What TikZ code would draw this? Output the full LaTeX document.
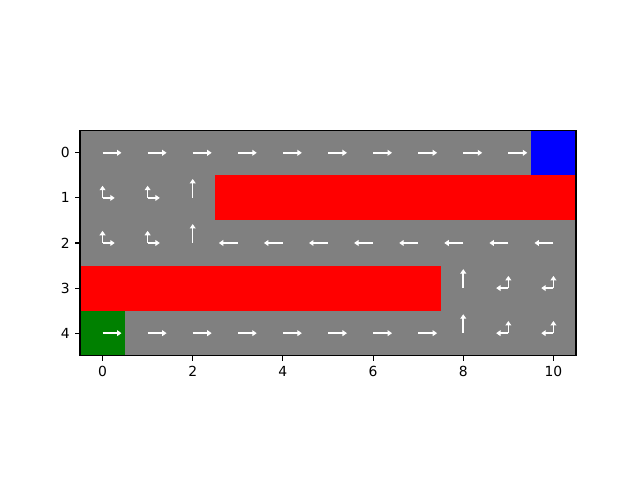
\documentclass[tikz,border=0pt]{standalone}
\usepackage{fontspec}
\setmainfont{DejaVu Sans}
\usetikzlibrary{arrows.meta}
\definecolor{cellgray}{HTML}{808080}
\definecolor{wallred}{HTML}{FF0000}
\definecolor{goalblue}{HTML}{0000FF}
\definecolor{startgreen}{HTML}{008000}
\tikzset{
	act/.style={white, line width=1.1pt, -{Triangle[length=3.2pt,width=4.2pt]}},
	tick/.style={line width=0.8pt},
	ticklabel/.style={font=\fontsize{10}{12}\selectfont, inner sep=0pt}
}
\begin{document}
\begin{tikzpicture}[x=32.45pt, y=-32.45pt]
	\useasboundingbox (-2.274,-3.389) rectangle (11.92,7.278);
	%grid
	\fill[cellgray] (-0.5,-0.5) rectangle (10.5,4.5);
	%walls
	\fill[wallred] (2.5,0.5) rectangle (10.5,1.5);
	\fill[wallred] (-0.5,2.5) rectangle (7.5,3.5);
	%goal and start
	\fill[goalblue] (9.5,-0.5) rectangle (10.5,0.5);
	\fill[startgreen] (-0.5,3.5) rectangle (0.5,4.5);
	%policy
	\foreach \c in {0,...,9} \draw[act] (\c,0) -- ++(0.42,0);
	\foreach \c in {0,...,7} \draw[act] (\c,4) -- ++(0.42,0);
	\foreach \c in {3,...,10} \draw[act] (\c,2) -- ++(-0.42,0);
	\foreach \r in {1,2} \draw[act] (2,\r) -- ++(0,-0.42);
	\foreach \r in {3,4} \draw[act] (8,\r) -- ++(0,-0.42);
	\foreach \c/\r in {0/1,1/1,0/2,1/2} {
		\draw[act] (\c,\r) -- ++(0,-0.27);
		\draw[act] (\c,\r) -- ++(0.27,0);
	}
	\foreach \c/\r in {9/3,10/3,9/4,10/4} {
		\draw[act] (\c,\r) -- ++(0,-0.27);
		\draw[act] (\c,\r) -- ++(-0.27,0);
	}
	%axes
	\draw[tick] (-0.5,-0.5) rectangle (10.5,4.5);
	\foreach \x in {0,2,...,10}
		\draw[tick] (\x,4.5) -- ++(0,0.108) node[ticklabel, below=3.5pt] {\x};
	\foreach \y in {0,...,4}
		\draw[tick] (-0.5,\y) -- ++(-0.108,0) node[ticklabel, left=3.5pt] {\y};
\end{tikzpicture}
\end{document}
